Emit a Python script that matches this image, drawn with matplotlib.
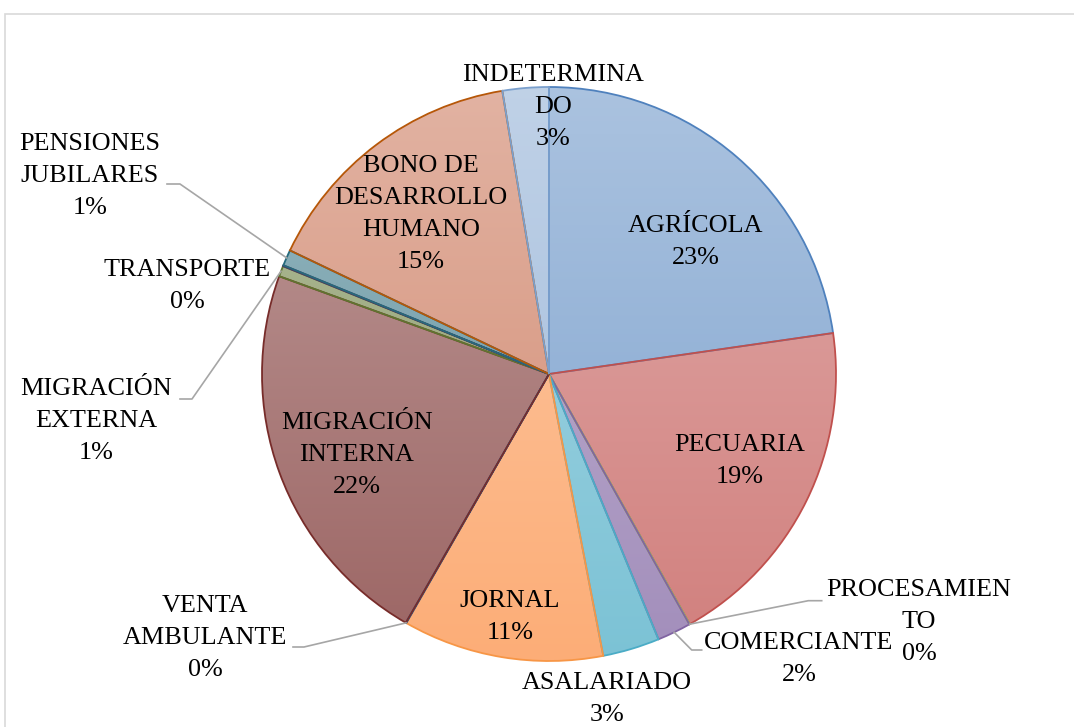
import math

import matplotlib
matplotlib.use("Agg")
import matplotlib.pyplot as plt
import numpy as np
from matplotlib.colors import to_rgb
from matplotlib.patches import Rectangle

# ── Datos ─────────────────────────────────────────────────────────────────────

categorias = [
    "AGRÍCOLA", "PECUARIA", "PROCESAMIEN\nTO", "COMERCIANTE", "ASALARIADO",
    "JORNAL", "VENTA\nAMBULANTE", "MIGRACIÓN\nINTERNA", "MIGRACIÓN\nEXTERNA",
    "TRANSPORTE", "PENSIONES\nJUBILARES", "BONO DE\nDESARROLLO\nHUMANO",
    "INDETERMINA\nDO",
]
valores = [22.7, 19.1, 0.03, 1.9, 3.2, 11.3, 0.03, 22.2, 0.6, 0.05, 0.9, 15.3, 2.6]
bordes = [
    "#4F81BD", "#C0504D", "#9BBB59", "#8064A2", "#4BACC6", "#F79646",
    "#385D8A", "#772C2A", "#5F7530", "#4D3B62", "#276A7C", "#B65708",
    "#7BA0CD",
]
rellenos = [
    "#4F81BD", "#C0504D", "#9BBB59", "#8064A2", "#4BACC6", "#FB8F45",
    "#385D8A", "#772C2A", "#5F7530", "#4D3B62", "#276A7C", "#C2603E",
    "#7BA0CD",
]

# ── Layout (px, origen arriba-izquierda) ──────────────────────────────────────

W, H = 1074, 727
CX, CY, R = 549, 374, 287
pos_etiquetas = [
    (696, 242), (740, 461), (919, 622), (799, 659), (607, 699),
    (510, 617), (205, 638), (357, 455), (96, 421), (187, 286),
    (90, 176), (421, 214), (553, 107),
]
# puntos del lado de la etiqueta para las líneas guía
guias = {
    2: [(821.7, 600.7), (808.3, 600.7)],
    3: [(701.7, 650), (691.7, 650)],
    6: [(293, 647), (304, 647)],
    8: [(180, 399), (192, 399)],
    10: [(167, 184), (180, 184)],
}


def py(y):
    return H - y


def mezcla(c, t):
    r, g, b = to_rgb(c)
    return (r + (1 - r) * t, g + (1 - g) * t, b + (1 - b) * t)


fig = plt.figure(figsize=(W / 100, H / 100), dpi=100)
ax = fig.add_axes([0, 0, 1, 1])

wedges, _ = ax.pie(
    valores, colors=rellenos, startangle=90, counterclock=False,
    center=(CX, py(CY)), radius=R,
    wedgeprops=dict(linewidth=1.3),
)

grad = np.linspace(0.52, 0.27, 256)
for w, c, b in zip(wedges, rellenos, bordes):
    img = np.array([[mezcla(c, t)] for t in grad])
    im = ax.imshow(img, extent=(CX - R, CX + R, py(CY) - R, py(CY) + R),
                   origin="upper", aspect="auto", interpolation="bilinear", zorder=1)
    im.set_clip_path(w)
    w.set_facecolor("none")
    w.set_edgecolor(b)
    w.set_zorder(2)

total = sum(valores)
for cat, v, (x, y) in zip(categorias, valores, pos_etiquetas):
    ax.text(x, py(y), f"{cat}\n{v / total * 100:.0f}%", ha="center", va="center",
            multialignment="center", fontsize=18.8, family="Liberation Serif",
            linespacing=1.58, color="black", zorder=5)

for i, pts in guias.items():
    w = wedges[i]
    mid = math.radians((w.theta1 + w.theta2) / 2)
    ax_x = w.center[0] + w.r * math.cos(mid)
    ax_y = w.center[1] + w.r * math.sin(mid)
    xs = [p[0] for p in pts] + [ax_x]
    ys = [py(p[1]) for p in pts] + [ax_y]
    ax.plot(xs, ys, color="#A6A6A6", linewidth=1.2, zorder=3)

ax.set_xlim(0, W)
ax.set_ylim(0, H)
ax.set_aspect("auto")
ax.axis("off")

fig.patches.append(Rectangle((5 / W, -0.1), 1.2, (H - 14) / H + 0.1,
                             transform=fig.transFigure, fill=False,
                             edgecolor="#D9D9D9", linewidth=1.2))

fig.savefig("out.png", dpi=100)
